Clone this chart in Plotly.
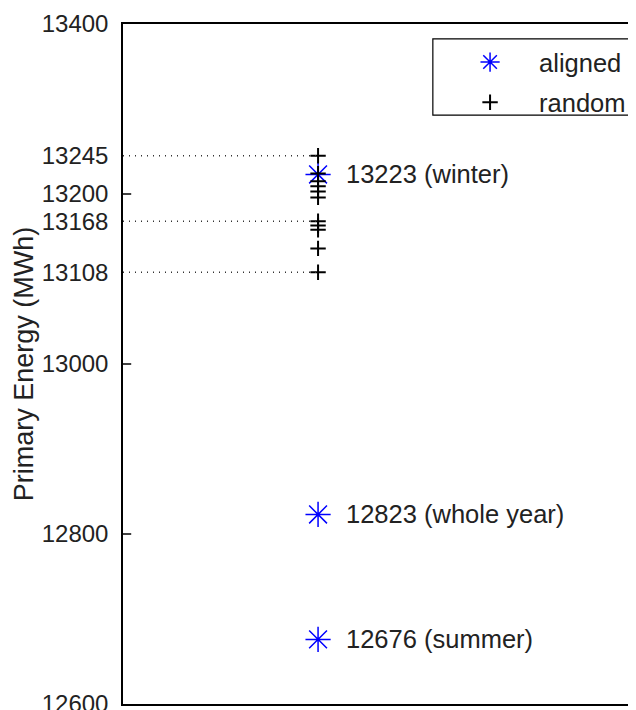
import plotly.graph_objects as go

# ---- data ----
aligned_names = ["winter", "whole year", "summer"]
aligned_values = [13223, 12823, 12676]
random_values = [13245, 13224, 13215, 13209, 13203, 13196, 13168, 13163, 13158, 13136, 13108]
guide_values = [13245, 13168, 13108]
tick_values = [12600, 12800, 13000, 13108, 13168, 13200, 13245, 13400]
plain_ticks = [12800, 13000, 13200]
x_pos = 1.0
x_range = [0, 2.63]
y_range = [12600, 13400]

FONT = "Liberation Sans, Arial, sans-serif"
FS = 24
TXT = "#222"

fig = go.Figure()
fig.add_trace(go.Scatter(
    x=[x_pos] * len(aligned_values), y=aligned_values, mode="markers",
    name="aligned", legendgroup="a",
    marker=dict(symbol="asterisk-open", size=21, color="blue",
                line=dict(color="blue", width=1.5)),
))
fig.add_trace(go.Scatter(
    x=[x_pos] * len(random_values), y=random_values, mode="markers",
    name="random", legendgroup="b",
    marker=dict(symbol="cross-thin-open", size=11, color="black",
                line=dict(color="black", width=2)),
))

shapes = []
for v in guide_values:
    shapes.append(dict(type="line", xref="x", yref="y", x0=x_range[0], x1=x_pos,
                       y0=v, y1=v, line=dict(color="#333", width=1.5, dash="1px,5px")))
for v in plain_ticks:
    shapes.append(dict(type="line", xref="paper", yref="y", x0=0, x1=0.016,
                       y0=v, y1=v, line=dict(color="black", width=1.5)))
# legend box
shapes.append(dict(type="rect", xref="paper", yref="paper", x0=0.604, x1=0.991,
                   y0=0.866, y1=0.978, line=dict(color="black", width=1.2),
                   fillcolor="rgba(0,0,0,0)"))
fig.update_layout(shapes=shapes)

for name, v in zip(aligned_names, aligned_values):
    fig.add_annotation(x=x_pos, y=v, xref="x", yref="y", text=f"{v} ({name})",
                       showarrow=False, xanchor="left", xshift=26,
                       font=dict(family=FONT, size=25.5, color=TXT))

fig.update_layout(
    width=628, height=702,
    margin=dict(l=115, r=0, t=16, b=6, autoexpand=False),
    plot_bgcolor="white", paper_bgcolor="white",
    showlegend=True,
    legend=dict(x=0.620, y=0.978, xanchor="left", yanchor="top",
                bgcolor="rgba(0,0,0,0)", borderwidth=0, itemwidth=88,
                font=dict(family=FONT, size=25.5, color=TXT),
                tracegroupgap=4, traceorder="grouped"),
    xaxis=dict(range=x_range, showgrid=False, zeroline=False, showticklabels=False,
               automargin=False,
               ticks="", showline=True, mirror=True, linecolor="black", linewidth=1.5),
    yaxis=dict(range=y_range, tickvals=tick_values, tickformat="d", showgrid=False,
               zeroline=False, automargin=False, ticklabeloverflow="allow",
               ticks="", showline=True, linecolor="black", linewidth=1.5,
               ticklabelstandoff=8,
               tickfont=dict(family=FONT, size=FS, color=TXT),
               title=dict(text="Primary Energy (MWh)", standoff=0,
                          font=dict(family=FONT, size=27, color=TXT))),
)
fig.write_html("out.html")
